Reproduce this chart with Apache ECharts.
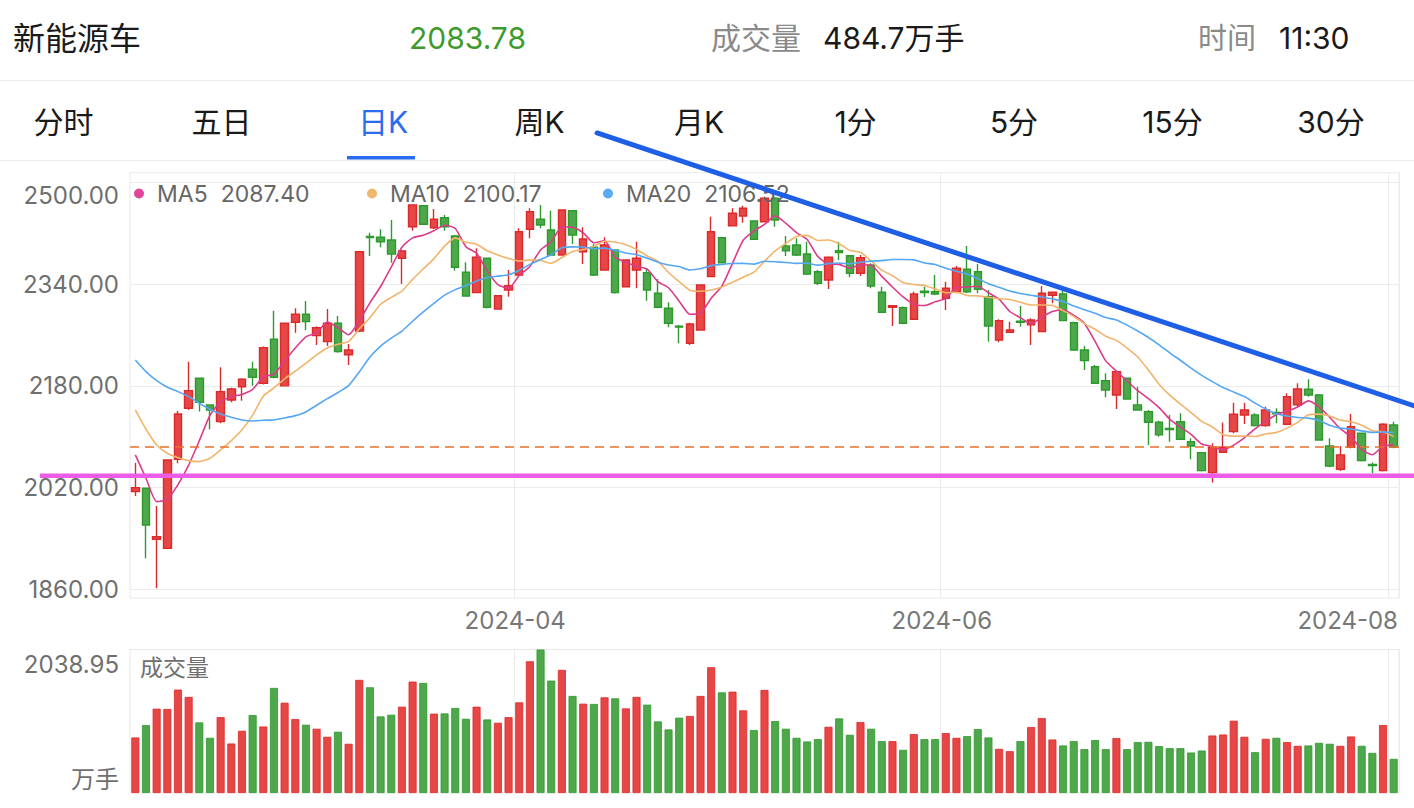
<!DOCTYPE html>
<html>
<head>
<meta charset="utf-8">
<script src="https://cdn.jsdelivr.net/npm/echarts/dist/echarts.min.js"></script>
<style>html,body{margin:0;padding:0;background:#fff}#c{width:1414px;height:808px}</style>
</head>
<body>
<div id="c"></div>
<script>
const dates = [
'2024-02-01','2024-02-02','2024-02-05','2024-02-06','2024-02-07','2024-02-08','2024-02-19','2024-02-20','2024-02-21','2024-02-22','2024-02-23','2024-02-26','2024-02-27','2024-02-28','2024-02-29',
'2024-03-01','2024-03-04','2024-03-05','2024-03-06','2024-03-07','2024-03-08','2024-03-11','2024-03-12','2024-03-13','2024-03-14','2024-03-15','2024-03-18','2024-03-19','2024-03-20','2024-03-21','2024-03-22','2024-03-25','2024-03-26','2024-03-27','2024-03-28','2024-03-29',
'2024-04-01','2024-04-02','2024-04-03','2024-04-08','2024-04-09','2024-04-10','2024-04-11','2024-04-12','2024-04-15','2024-04-16','2024-04-17','2024-04-18','2024-04-19','2024-04-22','2024-04-23','2024-04-24','2024-04-25','2024-04-26','2024-04-29','2024-04-30',
'2024-05-06','2024-05-07','2024-05-08','2024-05-09','2024-05-10','2024-05-13','2024-05-14','2024-05-15','2024-05-16','2024-05-17','2024-05-20','2024-05-21','2024-05-22','2024-05-23','2024-05-24','2024-05-27','2024-05-28','2024-05-29','2024-05-30','2024-05-31',
'2024-06-03','2024-06-04','2024-06-05','2024-06-06','2024-06-07','2024-06-11','2024-06-12','2024-06-13','2024-06-14','2024-06-17','2024-06-18','2024-06-19','2024-06-20','2024-06-21','2024-06-24','2024-06-25','2024-06-26','2024-06-27','2024-06-28',
'2024-07-01','2024-07-02','2024-07-03','2024-07-04','2024-07-05','2024-07-08','2024-07-09','2024-07-10','2024-07-11','2024-07-12','2024-07-15','2024-07-16','2024-07-17','2024-07-18','2024-07-19','2024-07-22','2024-07-23','2024-07-24','2024-07-25','2024-07-26','2024-07-29','2024-07-30','2024-07-31',
'2024-08-01'];

const opens = [2013.4,2018.7,1938.4,1924.3,2064.4,2144.7,2192.0,2150.0,2123.6,2157.8,
2178.7,2206.1,2184.1,2253.4,2180.0,2280.2,2292.8,2259.1,2249.6,2278.6,
2229.1,2266.5,2415.5,2414.0,2409.8,2381.0,2430.7,2463.8,2429.1,2444.9,
2416.1,2358.9,2326.8,2381.0,2301.1,2331.0,2354.6,2426.6,2442.4,2425.5,
2386.1,2455.9,2391.3,2398.3,2362.5,2394.0,2336.2,2362.5,2358.3,2325.8,
2302.2,2274.0,2247.1,2268.0,2352.0,2413.4,2432.3,2447.6,2439.7,2438.6,
2475.4,2400.3,2401.9,2387.7,2359.8,2346.8,2393.0,2385.0,2357.3,2370.4,
2327.4,2303.8,2303.2,2284.9,2329.0,2328.3,2318.0,2328.3,2363.6,2359.8,
2320.5,2252.3,2264.4,2282.0,2276.0,2265.4,2322.7,2324.7,2279.5,2236.5,
2210.2,2188.2,2165.7,2192.0,2150.0,2139.4,2122.7,2113.0,2123.6,2092.1,
2074.8,2043.3,2075.4,2107.9,2134.2,2134.2,2117.3,2138.0,2119.5,2150.0,
2174.6,2165.7,2085.3,2048.7,2083.3,2105.4,2056.0,2046.5,2118.4];

const closes = [2019.7,1960.9,1942.5,2063.3,2135.7,2172.4,2154.2,2142.0,2170.9,2175.1,
2190.4,2193.5,2240.2,2193.5,2278.6,2292.8,2281.1,2271.7,2278.6,2233.9,
2236.5,2391.3,2413.5,2407.1,2387.7,2392.4,2464.9,2434.5,2442.4,2430.7,
2366.8,2321.6,2382.5,2303.8,2322.0,2337.8,2422.8,2454.3,2433.4,2386.1,
2457.0,2417.6,2411.3,2354.6,2401.9,2326.8,2378.3,2381.0,2331.0,2303.8,
2278.6,2272.5,2277.5,2338.9,2422.8,2374.0,2451.8,2459.7,2410.9,2475.4,
2441.3,2392.9,2386.1,2356.2,2341.6,2382.5,2390.0,2357.3,2381.9,2337.3,
2295.9,2306.3,2278.6,2324.7,2327.0,2324.7,2333.7,2365.2,2328.3,2332.1,
2274.3,2282.7,2268.0,2280.0,2283.8,2325.8,2327.4,2282.7,2236.5,2219.7,
2184.1,2173.5,2202.4,2159.4,2142.0,2122.7,2102.7,2111.0,2095.9,2085.3,
2046.5,2083.3,2083.3,2135.3,2142.0,2117.3,2142.0,2136.0,2163.0,2175.1,
2165.7,2094.8,2053.8,2071.2,2115.7,2062.2,2054.5,2119.5,2083.78];

const lows = [2006.6,1908.5,1861.3,1923.5,2058.1,2142.0,2139.4,2111.7,2121.0,2154.2,
2156.7,2180.0,2182.0,2192.0,2179.0,2263.8,2268.0,2244.4,2242.8,2232.0,
2213.0,2265.0,2384.6,2398.3,2374.0,2340.5,2424.4,2434.0,2426.6,2424.4,
2361.4,2320.5,2325.8,2302.0,2300.0,2320.5,2353.0,2412.4,2428.2,2384.6,
2385.0,2403.5,2372.0,2353.0,2361.4,2325.0,2335.0,2333.7,2314.2,2302.2,
2272.3,2247.1,2244.4,2267.0,2351.0,2373.0,2432.0,2437.0,2410.0,2438.0,
2430.7,2384.6,2384.6,2354.6,2338.9,2332.6,2378.3,2351.0,2353.0,2333.7,
2294.3,2274.3,2277.0,2284.0,2320.0,2323.0,2299.5,2325.8,2325.8,2325.8,
2249.6,2248.7,2264.0,2273.2,2244.4,2264.4,2310.1,2282.0,2235.0,2205.0,
2183.0,2162.0,2143.6,2158.0,2141.0,2086.9,2100.0,2092.1,2094.8,2064.4,
2044.9,2027.6,2075.0,2105.4,2120.0,2116.0,2115.7,2121.1,2118.0,2147.2,
2163.0,2094.0,2051.8,2046.0,2081.7,2061.0,2042.4,2045.0,2081.7];

const highs = [2058.6,2019.5,1990.9,2064.5,2140.5,2218.1,2192.5,2150.5,2209.3,2177.0,
2192.0,2218.0,2242.0,2298.4,2279.5,2302.2,2313.7,2274.0,2301.0,2290.0,
2246.0,2392.0,2421.3,2426.6,2441.3,2394.0,2465.5,2464.5,2458.6,2449.1,
2417.6,2374.6,2396.7,2382.0,2323.0,2362.5,2428.2,2459.7,2464.9,2455.9,
2458.0,2457.0,2429.8,2403.5,2414.0,2395.0,2379.0,2407.1,2365.2,2348.3,
2311.7,2276.0,2279.5,2340.0,2446.5,2414.0,2459.7,2463.8,2441.0,2478.0,
2477.0,2416.1,2412.4,2407.1,2362.5,2383.0,2407.1,2386.0,2386.1,2373.0,
2336.2,2307.0,2305.0,2328.3,2336.0,2354.6,2344.1,2368.8,2400.3,2372.0,
2331.0,2285.0,2281.1,2305.8,2286.5,2337.3,2328.3,2336.0,2281.0,2242.8,
2213.0,2199.8,2204.0,2193.0,2178.7,2142.0,2125.0,2134.2,2136.8,2097.5,
2075.5,2089.6,2122.1,2153.5,2153.5,2137.0,2147.2,2144.7,2168.3,2184.1,
2190.4,2167.0,2097.5,2085.3,2135.7,2106.0,2059.1,2121.0,2123.6];

const ma5 = [2071.2,2034.5,1997.6,2001.4,2024.4,2055.0,2093.6,2133.5,2155.0,2162.9,
2166.5,2174.4,2194.0,2198.5,2219.2,2239.7,2257.2,2263.5,2280.6,2271.6,
2260.4,2282.4,2310.8,2336.5,2367.2,2398.4,2413.1,2417.3,2424.4,2433.0,
2427.9,2399.2,2388.8,2361.1,2339.3,2333.5,2353.8,2368.1,2394.1,2406.9,
2430.7,2429.7,2421.1,2405.3,2408.5,2382.4,2374.6,2368.5,2363.8,2344.2,
2334.5,2313.4,2292.7,2294.3,2318.1,2337.1,2373.0,2409.4,2423.8,2434.4,
2447.8,2436.0,2421.3,2410.4,2383.6,2371.9,2371.3,2365.5,2370.7,2369.8,
2352.5,2335.7,2320.0,2308.6,2306.5,2312.3,2317.7,2335.1,2335.8,2336.8,
2326.7,2316.5,2297.1,2287.4,2277.8,2288.1,2297.0,2299.9,2291.2,2278.4,
2250.1,2219.3,2203.2,2187.8,2172.3,2160.0,2145.8,2127.6,2114.9,2103.5,
2088.3,2084.4,2078.9,2086.7,2098.1,2112.2,2124.0,2134.5,2140.1,2146.7,
2156.4,2146.9,2130.5,2112.1,2100.2,2079.5,2071.5,2084.6,2087.40];

const ma10 = [2142.0,2111.6,2086.9,2073.9,2066.9,2062.2,2060.6,2066.0,2079.0,2093.7,
2110.7,2134.0,2163.8,2176.8,2191.1,2203.1,2215.8,2228.8,2239.6,2245.4,
2250.0,2269.8,2287.2,2308.5,2319.4,2329.4,2347.8,2364.0,2380.4,2400.1,
2413.1,2406.2,2403.1,2392.7,2386.2,2380.7,2376.5,2378.5,2377.6,2373.1,
2382.1,2391.7,2394.6,2399.7,2407.7,2406.6,2402.1,2394.8,2384.6,2376.3,
2358.5,2344.0,2330.6,2329.0,2331.1,2335.8,2343.2,2351.1,2359.1,2376.2,
2392.5,2404.5,2415.4,2417.1,2409.0,2409.8,2403.7,2393.4,2390.5,2376.7,
2362.2,2353.5,2342.8,2339.6,2338.2,2332.4,2326.7,2327.5,2322.2,2321.7,
2319.5,2317.1,2316.1,2311.6,2307.3,2307.4,2306.8,2298.5,2289.3,2278.1,
2269.1,2258.2,2251.6,2239.5,2225.4,2205.0,2182.6,2165.4,2151.3,2137.9,
2124.1,2115.1,2103.2,2100.8,2100.8,2100.3,2104.2,2106.7,2113.4,2122.4,
2134.3,2135.5,2132.5,2126.1,2123.5,2118.0,2109.2,2107.6,2100.17];

const ma20 = [2220.8,2202.4,2188.2,2177.8,2170.9,2163.0,2152.6,2143.2,2135.7,2130.5,
2126.3,2124.7,2125.8,2126.3,2129.4,2133.1,2138.9,2149.4,2159.8,2169.6,
2180.4,2201.9,2225.5,2242.7,2255.3,2266.3,2281.8,2296.4,2310.0,2322.8,
2331.6,2338.0,2345.1,2350.6,2352.8,2355.0,2362.1,2371.3,2379.0,2386.6,
2397.6,2398.9,2398.8,2396.2,2396.9,2393.6,2389.3,2386.6,2381.1,2374.7,
2370.3,2367.9,2362.6,2364.4,2369.4,2371.2,2372.7,2372.9,2371.8,2376.3,
2375.5,2374.3,2373.0,2373.1,2370.1,2372.8,2373.4,2372.2,2374.8,2376.5,
2377.3,2379.0,2379.1,2378.4,2373.6,2371.1,2365.2,2360.5,2356.3,2349.2,
2340.8,2335.3,2329.4,2325.6,2322.7,2319.9,2316.8,2313.0,2305.8,2299.9,
2294.3,2287.6,2283.8,2275.6,2266.3,2256.2,2244.7,2232.0,2220.3,2208.0,
2196.6,2186.6,2177.4,2170.2,2163.1,2152.7,2143.4,2136.0,2132.4,2130.1,
2129.2,2125.3,2117.9,2113.4,2112.1,2109.1,2106.7,2107.1,2106.52];

const volumes = [789,965,1198,1194,1469,1365,1003,784,1079,703,
884,1108,945,1493,1283,1051,970,913,799,870,
699,1607,1502,1088,1112,1226,1583,1564,1127,1131,
1208,1055,1226,1045,998,1079,1288,1872,2038.95,1597,
1750,1379,1269,1265,1359,1345,1202,1365,1255,1017,
903,1070,1094,1379,1787,1430,1440,1174,894,1464,
1022,913,784,732,765,941,1060,827,1008,913,
737,737,613,837,765,765,851,784,808,908,
789,627,594,737,937,1065,760,675,737,623,
751,623,780,623,723,727,666,637,637,575,
603,817,831,1027,799,580,770,784,723,670,
675,713,699,670,803,670,570,965,484.7];

const priceTicks = { min: 1860, max: 2500, step: 160 };
const volMax = 2038.95;
const monthLabelDates = ['2024-04-01', '2024-06-03', '2024-08-01'];
const lastPrice = 2083.78;
const supportLevel = 2038.4;
const trendLine = [[43.3, 2578.3], [119.95, 2148.3]];
const header = { name: '新能源车', price: '2083.78', volLabel: '成交量', vol: '484.7万手', timeLabel: '时间', time: '11:30' };
const tabs = ['分时', '五日', '日K', '周K', '月K', '1分', '5分', '15分', '30分'];
const volumeTitle = '成交量';

const FONT = 'Inter, "Noto Sans CJK SC", sans-serif';
const UP = '#e64646', UP_B = '#dc2a2a', DN = '#4ea74a', DN_B = '#2d9a2d';

const candleData = dates.map((d, i) => [opens[i], closes[i], lows[i], highs[i]]);
const volData = volumes.map((v, i) => ({
  value: v,
  itemStyle: closes[i] >= opens[i] ? { color: UP, borderColor: UP_B } : { color: DN, borderColor: DN_B }
}));

const isLabelDate = (idx, val) => monthLabelDates.indexOf(val) >= 0;

function legendFor(name, arr, left, color) {
  return {
    data: [{ name: name, itemStyle: { color: color } }],
    left: left, top: 182, padding: 0,
    icon: 'circle', itemWidth: 10, itemHeight: 10,
    formatter: n => '{n|' + n + '}{v|' + arr[arr.length - 1].toFixed(2) + '}',
    textStyle: {
      color: '#666', fontSize: 23, fontFamily: FONT, padding: [0, 0, 0, 8],
      rich: { n: { fontSize: 23, color: '#666', fontFamily: FONT }, v: { fontSize: 23, color: '#666', fontFamily: FONT, padding: [0, 0, 0, 13] } }
    },
    selectedMode: false
  };
}

const option = {
  animation: false,
  backgroundColor: '#fff',
  textStyle: { fontFamily: FONT },
  tooltip: { show: false },
  axisPointer: { show: false },
  legend: [
    legendFor('MA5', ma5, 134, '#e0479a'),
    legendFor('MA10', ma10, 367, '#f0b86f'),
    legendFor('MA20', ma20, 603, '#5aaaf5')
  ],
  grid: [
    { left: 130, right: 15, top: 182.7, height: 406.3, show: false },
    { left: 130, right: 15, top: 649.5, height: 143.5, show: true, borderColor: '#e9e9e9', borderWidth: 1 },
    { left: 130, right: 15, top: 172.7, height: 425.3, show: true, borderColor: '#e9e9e9', borderWidth: 1 }
  ],
  xAxis: [
    { type: 'category', gridIndex: 0, data: dates, boundaryGap: true, show: false },
    { type: 'category', gridIndex: 1, data: dates, boundaryGap: true,
      axisLine: { show: false }, axisTick: { show: false }, axisLabel: { show: false },
      splitLine: { show: true, interval: isLabelDate, lineStyle: { color: '#ececec', width: 1 } } },
    { type: 'category', gridIndex: 2, data: dates, boundaryGap: true,
      axisLine: { show: false }, axisTick: { show: false },
      axisLabel: {
        show: true, interval: isLabelDate, margin: 10, color: '#777', fontSize: 24, fontFamily: FONT,
        formatter: v => v === '2024-08-01' ? '{r|' + v.slice(0, 7) + '}' : '{c|' + v.slice(0, 7) + '}',
        rich: {
          c: { fontSize: 24, color: '#777', fontFamily: FONT, padding: [0, 8, 0, 0] },
          r: { fontSize: 24, color: '#777', fontFamily: FONT, padding: [0, 92, 0, 0] }
        }
      },
      splitLine: { show: true, interval: isLabelDate, lineStyle: { color: '#ececec', width: 1 } } }
  ],
  yAxis: [
    { type: 'value', gridIndex: 0, min: priceTicks.min, max: priceTicks.max, interval: priceTicks.step,
      axisLine: { show: false }, axisTick: { show: false },
      axisLabel: {
        margin: 11, color: '#6f6f6f', fontSize: 24, fontFamily: FONT,
        formatter: v => v === priceTicks.max ? '{t|' + v.toFixed(2) + '}' : v.toFixed(2),
        rich: { t: { fontSize: 24, color: '#6f6f6f', fontFamily: FONT, padding: [26, 0, 0, 0] } }
      },
      splitLine: { show: true, lineStyle: { color: '#ececec', width: 1 } } },
    { type: 'value', gridIndex: 1, min: 0, max: volMax, interval: volMax,
      axisLine: { show: false }, axisTick: { show: false }, splitLine: { show: false },
      axisLabel: {
        margin: 11, color: '#6f6f6f', fontSize: 24, fontFamily: FONT,
        formatter: v => v > 0 ? '{t|' + volMax.toFixed(2) + '}' : '{b|万手}',
        rich: {
          t: { fontSize: 24, color: '#6f6f6f', fontFamily: FONT, padding: [30, 0, 0, 0] },
          b: { fontSize: 24, color: '#6f6f6f', fontFamily: FONT, padding: [0, 0, 28, 0] }
        }
      } },
    { type: 'value', gridIndex: 2, min: 0, max: 1, show: false }
  ],
  series: [
    { name: 'K', type: 'candlestick', xAxisIndex: 0, yAxisIndex: 0, data: candleData, barWidth: 8, clip: true,
      itemStyle: { color: UP, color0: DN, borderColor: UP_B, borderColor0: DN_B, borderWidth: 1.4 } },
    { name: 'MA5', type: 'line', xAxisIndex: 0, yAxisIndex: 0, data: ma5, showSymbol: false, smooth: 0.2,
      lineStyle: { color: '#dc3b8c', width: 1.6 }, itemStyle: { color: '#e0479a' }, z: 3 },
    { name: 'MA10', type: 'line', xAxisIndex: 0, yAxisIndex: 0, data: ma10, showSymbol: false, smooth: 0.2,
      lineStyle: { color: '#f2b46a', width: 1.6 }, itemStyle: { color: '#f0b86f' }, z: 3,
      markLine: {
        silent: true, symbol: ['none', 'none'], label: { show: false },
        lineStyle: { color: '#e8702a', type: [9, 6], width: 1.5 },
        data: [{ yAxis: lastPrice }]
      } },
    { name: 'MA20', type: 'line', xAxisIndex: 0, yAxisIndex: 0, data: ma20, showSymbol: false, smooth: 0.2,
      lineStyle: { color: '#55a7f3', width: 1.6 }, itemStyle: { color: '#5aaaf5' }, z: 3 },
    { name: '成交量', type: 'bar', xAxisIndex: 1, yAxisIndex: 1, data: volData, barWidth: 8,
      itemStyle: { borderWidth: 0.8 } }
  ]
};

const chart = echarts.init(document.getElementById('c'), null, { renderer: 'svg' });
chart.setOption(option);

const px0 = chart.convertToPixel({ xAxisIndex: 0 }, 0);
const px1 = chart.convertToPixel({ xAxisIndex: 0 }, 1);
const xAt = i => px0 + (px1 - px0) * i;
const yAt = v => chart.convertToPixel({ yAxisIndex: 0 }, v);

function txt(text, x, y, size, color, align) {
  return { type: 'text', x: x, y: y, z: 20,
    style: { text: text, font: size + 'px ' + FONT, fill: color, align: align, textAlign: align,
      verticalAlign: 'middle', textVerticalAlign: 'middle' } };
}

const tabCenters = [63.5, 221.5, 383, 539.5, 699, 855.5, 1014, 1172.5, 1331];
const graphics = [
  txt(header.name, 13, 38, 32, '#1a1a1a', 'left'),
  txt(header.price, 467.5, 38, 30, '#3d9a2c', 'center'),
  txt(header.volLabel, 711, 38, 30, '#8a8a8a', 'left'),
  txt(header.vol, 823, 38, 30, '#1a1a1a', 'left'),
  txt(header.timeLabel, 1198, 38, 29, '#8a8a8a', 'left'),
  txt(header.time, 1279, 38, 30, '#1a1a1a', 'left'),
  txt(volumeTitle, 140, 668, 23, '#6f6f6f', 'left'),
  { type: 'line', z: 20, shape: { x1: 0, y1: 80.5, x2: 1414, y2: 80.5 }, style: { stroke: '#ececec', lineWidth: 1 } },
  { type: 'line', z: 20, shape: { x1: 0, y1: 160.5, x2: 1414, y2: 160.5 }, style: { stroke: '#ececec', lineWidth: 1 } },
  { type: 'rect', z: 20, shape: { x: 347, y: 156, width: 68, height: 3.5 }, style: { fill: '#2a6cf0' } }
];
tabs.forEach((t, i) => graphics.push(txt(t, tabCenters[i], 122, 30, i === 2 ? '#2a6cf0' : '#1a1a1a', 'center')));

const ySup = yAt(supportLevel);
graphics.push({ type: 'line', z: 30, shape: { x1: 40, y1: ySup, x2: 1414, y2: ySup },
  style: { stroke: '#ec5ce6', lineWidth: 4.5 } });
graphics.push({ type: 'line', z: 31,
  shape: { x1: xAt(trendLine[0][0]), y1: yAt(trendLine[0][1]), x2: xAt(trendLine[1][0]), y2: yAt(trendLine[1][1]) },
  style: { stroke: '#1f5fe6', lineWidth: 5, lineCap: 'round' } });

chart.setOption({ graphic: graphics });
</script>
